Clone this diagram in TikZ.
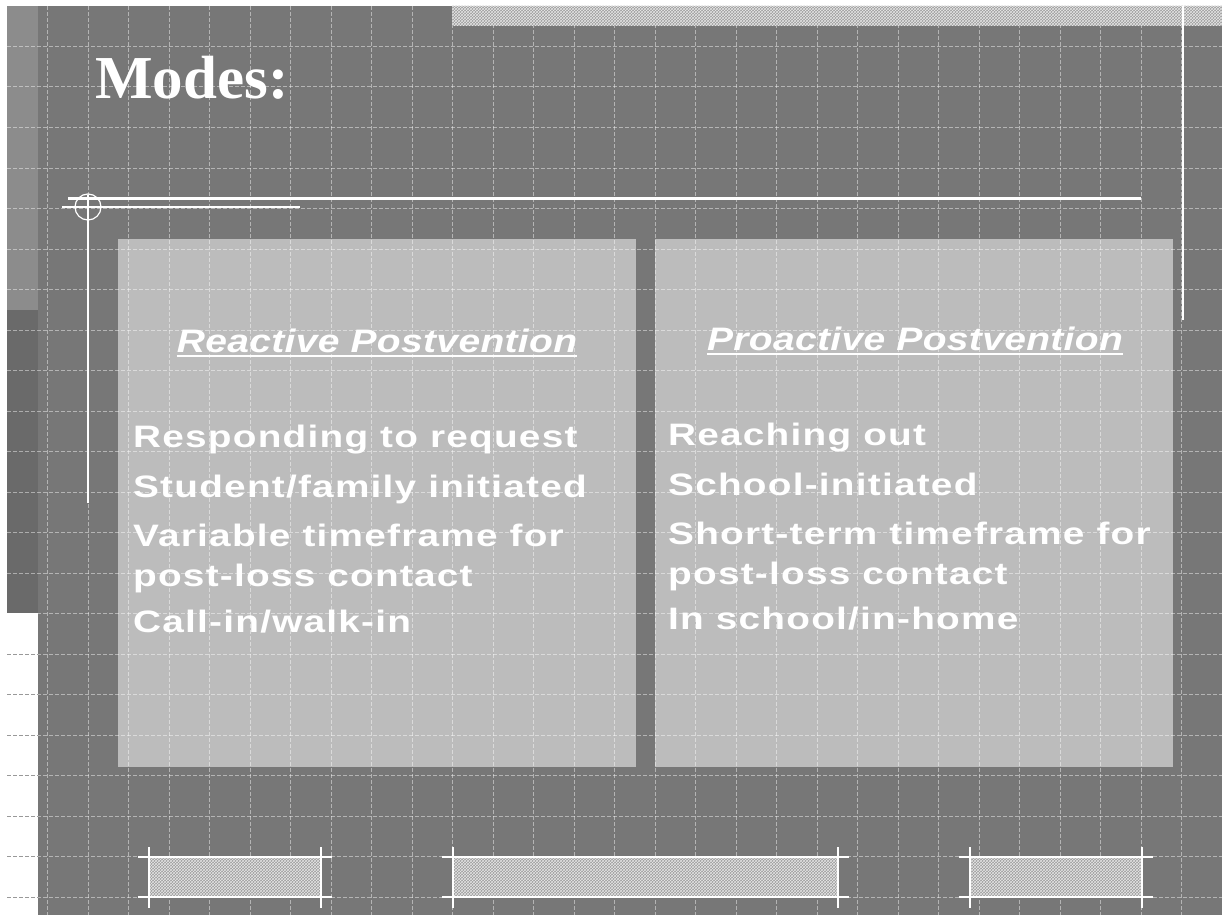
\documentclass[tikz,border=0pt]{standalone}
\usepackage{fontspec}
\usetikzlibrary{patterns}
\newfontfamily\titlefont{Liberation Serif}
\newfontfamily\itemfont{Liberation Sans}[FakeStretch=1.25, LetterSpace=4]
\newfontfamily\hdrfont{Liberation Sans}[FakeStretch=1.2, LetterSpace=1]
\definecolor{slidegray}{HTML}{777777}
\definecolor{striplight}{HTML}{8C8C8C}
\definecolor{stripdark}{HTML}{6A6A6A}
\definecolor{boxgray}{HTML}{BCBCBC}
\definecolor{hatchgray}{HTML}{9C9C9C}
\tikzset{
  gridline/.style={white, opacity=.45, line width=1pt, dash pattern=on 4pt off 2pt},
  gridwhite/.style={black!40, line width=1pt, dash pattern=on 4pt off 2pt},
  barline/.style={white, line width=1.5pt},
  itemtext/.style={anchor=base west, inner sep=0pt, text=white, font=\fontsize{31}{31}\itemfont\bfseries},
  hdrtext/.style={anchor=base, inner sep=0pt, text=white, font=\fontsize{32.5}{32}\hdrfont\bfseries\itshape},
}
\begin{document}
\begin{tikzpicture}[x=1pt,y=-1pt]
    \useasboundingbox (0,0) rectangle (1222,915);
    \fill[slidegray] (38,6) rectangle (1222,915);
    \fill[striplight] (7,6) rectangle (38,310);
    \fill[stripdark] (7,310) rectangle (38,613);
    \fill[boxgray] (118,239) rectangle (636,767);
    \fill[boxgray] (655,239) rectangle (1173,767);
    \foreach \k in {1,...,29} \draw[gridline] ({7+40.5*\k},6) -- ({7+40.5*\k},915);
    \foreach \k in {1,...,22} \draw[gridline] (7,{6+40.5*\k}) -- (1222,{6+40.5*\k});
    \foreach \k in {16,...,22} \draw[gridwhite] (7,{6+40.5*\k}) -- (38,{6+40.5*\k});
    \fill[hatchgray] (452,6) rectangle (1222,26);
    \fill[pattern=crosshatch, pattern color=white!90!black] (452,6) rectangle (1222,26);
    \foreach \a/\b in {149/321, 453/838, 970/1142} {
        \fill[hatchgray] (\a,857) rectangle (\b,897);
        \fill[pattern=crosshatch, pattern color=white!90!black] (\a,857) rectangle (\b,897);
        \draw[barline] ({\a-11},857) -- ({\b+11},857) ({\a-11},897) -- ({\b+11},897)
            (\a,847) -- (\a,908) (\b,847) -- (\b,908);
    }
    \draw[white, line width=2.5pt] (68,198.5) -- (1141,198.5);
    \draw[white, line width=1.2pt] (62,207) -- (300,207);
    \draw[white, line width=1.2pt] (88,207) circle (13);
    \draw[white, line width=1.5pt] (88,195) -- (88,503);
    \draw[white, line width=1.5pt] (1183,6) -- (1183,320);
    \node[anchor=base west, inner sep=0pt, text=white, font=\fontsize{61}{61}\titlefont\bfseries] (title) at (95,99) {Modes:};
    \node[hdrtext] (hdrReact) at (377,352) {Reactive Postvention};
    \node[hdrtext] (hdrProact) at (915,350) {Proactive Postvention};
    \draw[white, line width=2pt] ([yshift=-3.5pt]hdrReact.base west) -- ([yshift=-3.5pt]hdrReact.base east);
    \draw[white, line width=2pt] ([yshift=-3.5pt]hdrProact.base west) -- ([yshift=-3.5pt]hdrProact.base east);
    \node[itemtext] (reactA) at (133,447) {Responding to request};
    \node[itemtext] (reactB) at (133,497) {Student/family initiated};
    \node[itemtext] (reactC) at (133,546) {Variable timeframe for};
    \node[itemtext] (reactD) at (133,586) {post-loss contact};
    \node[itemtext] (reactE) at (133,632) {Call-in/walk-in};
    \node[itemtext] (proactA) at (668,445) {Reaching out};
    \node[itemtext] (proactB) at (668,495) {School-initiated};
    \node[itemtext] (proactC) at (668,544) {Short-term timeframe for};
    \node[itemtext] (proactD) at (668,584) {post-loss contact};
    \node[itemtext] (proactE) at (668,629) {In school/in-home};
\end{tikzpicture}
\end{document}
